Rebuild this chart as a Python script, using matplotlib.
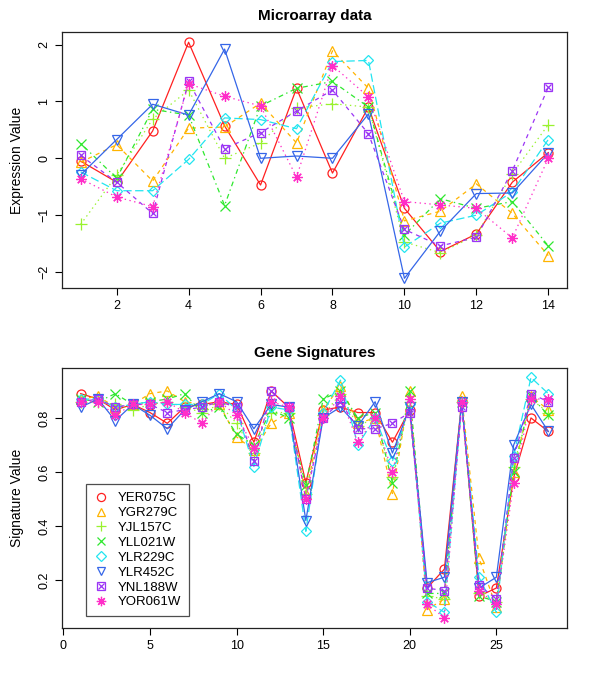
import matplotlib
matplotlib.use("Agg")
import matplotlib.pyplot as plt
from matplotlib.lines import Line2D

plt.rcParams['font.family'] = ['Liberation Sans', 'DejaVu Sans']
plt.rcParams['lines.scale_dashes'] = False

genes = ["YER075C", "YGR279C", "YJL157C", "YLL021W", "YLR229C", "YLR452C", "YNL188W", "YOR061W"]

# Microarray data (14 conditions)
micro_x = list(range(1, 15))
micro_YER075C = [-0.05, -0.42, 0.48, 2.04, 0.57, -0.47, 1.23, -0.26, 0.90, -0.88, -1.64, -1.33, -0.42, 0.10]
micro_YGR279C = [-0.07, 0.24, -0.40, 0.53, 0.55, 0.97, 0.27, 1.89, 1.23, -1.10, -0.93, -0.45, -0.97, -1.71]
micro_YJL157C = [-1.16, -0.30, 0.69, 1.20, 0.00, 0.27, 0.88, 0.96, 0.90, -1.47, -1.66, -1.35, -0.27, 0.59]
micro_YLL021W = [0.26, -0.35, 0.86, 0.76, -0.83, 0.92, 1.23, 1.35, 0.90, -1.35, -0.71, -0.88, -0.76, -1.54]
micro_YLR229C = [-0.24, -0.57, -0.57, -0.02, 0.71, 0.68, 0.52, 1.70, 1.72, -1.56, -1.14, -1.00, -0.59, 0.33]
micro_YLR452C = [-0.29, 0.33, 0.95, 0.76, 1.92, 0.00, 0.04, 0.00, 0.78, -2.11, -1.28, -0.62, -0.61, 0.09]
micro_YNL188W = [0.05, -0.42, -0.97, 1.35, 0.17, 0.45, 0.83, 1.20, 0.43, -1.25, -1.54, -1.39, -0.22, 1.25]
micro_YOR061W = [-0.36, -0.68, -0.85, 1.31, 1.09, 0.92, -0.33, 1.63, 1.08, -0.76, -0.82, -0.88, -1.40, 0.00]

# Gene signatures (28 signatures)
sig_x = list(range(1, 29))
sig_YER075C = [0.89, 0.87, 0.83, 0.85, 0.82, 0.78, 0.84, 0.85, 0.86, 0.85, 0.71, 0.90, 0.84, 0.56,
               0.83, 0.84, 0.82, 0.82, 0.71, 0.83, 0.17, 0.24, 0.86, 0.14, 0.17, 0.58, 0.80, 0.75]
sig_YGR279C = [0.87, 0.88, 0.84, 0.85, 0.89, 0.90, 0.86, 0.85, 0.85, 0.73, 0.68, 0.78, 0.82, 0.52,
               0.83, 0.92, 0.78, 0.80, 0.52, 0.90, 0.09, 0.13, 0.88, 0.28, 0.10, 0.60, 0.88, 0.83]
sig_YJL157C = [0.86, 0.86, 0.85, 0.83, 0.85, 0.86, 0.84, 0.82, 0.85, 0.78, 0.67, 0.82, 0.82, 0.52,
               0.81, 0.89, 0.77, 0.80, 0.58, 0.86, 0.14, 0.13, 0.86, 0.15, 0.12, 0.62, 0.87, 0.82]
sig_YLL021W = [0.87, 0.86, 0.89, 0.85, 0.86, 0.87, 0.89, 0.82, 0.84, 0.74, 0.70, 0.83, 0.80, 0.55,
               0.87, 0.90, 0.80, 0.82, 0.56, 0.90, 0.15, 0.15, 0.86, 0.14, 0.12, 0.60, 0.88, 0.81]
sig_YLR229C = [0.87, 0.87, 0.84, 0.85, 0.86, 0.85, 0.85, 0.85, 0.89, 0.83, 0.62, 0.84, 0.83, 0.38,
               0.82, 0.94, 0.70, 0.80, 0.64, 0.85, 0.12, 0.08, 0.86, 0.21, 0.08, 0.66, 0.95, 0.89]
sig_YLR452C = [0.84, 0.87, 0.79, 0.85, 0.81, 0.76, 0.83, 0.86, 0.89, 0.86, 0.76, 0.85, 0.84, 0.42,
               0.80, 0.84, 0.77, 0.86, 0.67, 0.84, 0.19, 0.21, 0.86, 0.17, 0.21, 0.70, 0.85, 0.75]
sig_YNL188W = [0.86, 0.87, 0.84, 0.85, 0.85, 0.82, 0.83, 0.84, 0.86, 0.84, 0.64, 0.90, 0.84, 0.50,
               0.80, 0.86, 0.76, 0.76, 0.78, 0.82, 0.17, 0.16, 0.84, 0.18, 0.13, 0.65, 0.89, 0.86]
sig_YOR061W = [0.86, 0.86, 0.81, 0.85, 0.85, 0.86, 0.82, 0.78, 0.86, 0.81, 0.69, 0.86, 0.84, 0.50,
               0.80, 0.88, 0.71, 0.80, 0.60, 0.87, 0.11, 0.06, 0.86, 0.16, 0.11, 0.56, 0.87, 0.87]

micro = [micro_YER075C, micro_YGR279C, micro_YJL157C, micro_YLL021W,
         micro_YLR229C, micro_YLR452C, micro_YNL188W, micro_YOR061W]
sig = [sig_YER075C, sig_YGR279C, sig_YJL157C, sig_YLL021W,
       sig_YLR229C, sig_YLR452C, sig_YNL188W, sig_YOR061W]

colors = ["#FF2020", "#FFB400", "#99F22E", "#2EE82E", "#22E5F0", "#3566E8", "#9B35F5", "#FF2EC8"]
dashes = [None, (3, 3), (1, 2.5), (1, 2.5, 3.5, 2.5), (6, 2.5), None, (3, 3), (1, 2.5)]
markers = ['o', '^', '+', 'x', 'D', 'v', 's', (8, 2, 0)]
msizes = [6.5, 7, 8, 6.5, 5.5, 7, 6, 7.5]

fig = plt.figure(figsize=(6, 6.75), dpi=100)
ax1 = fig.add_axes([62/600, 1-288/675, 505/600, 256/675])
ax2 = fig.add_axes([62/600, 1-628/675, 505/600, 260/675])


def draw(ax, xs, series):
    for i, ys in enumerate(series):
        ln, = ax.plot(xs, ys, color=colors[i], lw=0.9, marker=markers[i], ms=msizes[i],
                      mfc='none', mec=colors[i], mew=0.9)
        if dashes[i] is not None:
            ln.set_dashes(dashes[i])
        if i == 6:
            ax.plot(xs, ys, ls='none', marker='x', ms=4.5, mec=colors[i], mew=0.9)


draw(ax1, micro_x, micro)
draw(ax2, sig_x, sig)

for ax in (ax1, ax2):
    for s in ax.spines.values():
        s.set_linewidth(0.9)
        s.set_color('#222222')
    ax.tick_params(labelsize=9, length=5, width=0.8, direction='out')

ax1.set_xlim(0.48, 14.52)
ax1.set_ylim(-2.28, 2.22)
ax1.set_xticks([2, 4, 6, 8, 10, 12, 14])
ax1.set_yticks([-2, -1, 0, 1, 2])
ax1.set_yticklabels(['\u22122', '\u22121', '0', '1', '2'], rotation=90, va='center')
ax1.set_ylabel("Expression Value", fontsize=10, labelpad=10)
ax1.set_title("Microarray data", fontsize=11, fontweight='bold', pad=9)

ax2.set_xlim(-0.08, 29.08)
ax2.set_ylim(0.022, 0.985)
ax2.set_xticks([0, 5, 10, 15, 20, 25])
ax2.set_yticks([0.2, 0.4, 0.6, 0.8])
ax2.set_yticklabels(['0.2', '0.4', '0.6', '0.8'], rotation=90, va='center')
ax2.set_ylabel("Signature Value", fontsize=10, labelpad=10)
ax2.set_title("Gene Signatures", fontsize=11, fontweight='bold', pad=8)

handles = []
for i in range(8):
    h = Line2D([], [], ls='none', marker=markers[i], ms=msizes[i] * 0.9, mfc='none',
               mec=colors[i], mew=0.9)
    if i == 6:
        h = (h, Line2D([], [], ls='none', marker='x', ms=4.0, mec=colors[i], mew=0.9))
    handles.append(h)
leg = ax2.legend(handles, genes, loc='lower left', bbox_to_anchor=(0.048, 0.045),
                 fontsize=9.5, frameon=True, fancybox=False, edgecolor='#222222',
                 handlelength=1.0, handletextpad=0.8, labelspacing=0.2, borderpad=0.6,
                 borderaxespad=0.0)
leg.get_frame().set_linewidth(0.9)

fig.savefig("out.png", dpi=100)
